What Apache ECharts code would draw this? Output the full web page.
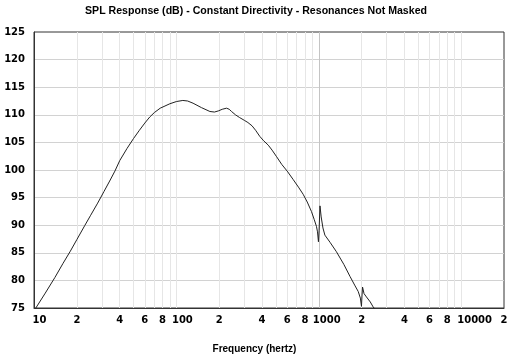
<!DOCTYPE html>
<html>
<head>
<meta charset="utf-8">
<script src="https://cdn.jsdelivr.net/npm/echarts@6/dist/echarts.min.js"></script>
<style>html,body{margin:0;padding:0;background:#fff;}#c{width:512px;height:358px;}</style>
</head>
<body>
<div id="c"></div>
<script>
// Frequency (Hz) and SPL (dB)
const freqHz = [10, 10.3, 12, 14, 16, 18, 20, 22.8, 25, 28, 31, 34, 37, 40, 45, 50, 55, 60, 65, 70, 77, 90, 100, 111, 120, 131, 150, 172, 185, 197, 210, 225, 235, 244, 260, 278, 300, 318, 340, 360, 385, 410, 442, 470, 506, 550, 600, 660, 720, 777, 830, 888, 930, 963, 980, 995, 1005, 1020, 1040, 1070, 1104, 1200, 1330, 1500, 1659, 1800, 1892, 1960, 1995, 2010, 2030, 2080, 2163, 2300, 2409, 2600];
const splDb  = [74.5, 75.0, 77.7, 80.5, 83.1, 85.3, 87.4, 90.0, 91.8, 94.0, 96.1, 98.0, 99.8, 101.7, 103.9, 105.7, 107.2, 108.5, 109.6, 110.4, 111.2, 112.0, 112.4, 112.6, 112.5, 112.1, 111.3, 110.6, 110.5, 110.7, 111.0, 111.2, 111.0, 110.6, 110.0, 109.5, 109.0, 108.6, 108.0, 107.2, 106.1, 105.3, 104.5, 103.6, 102.4, 101.0, 99.8, 98.3, 96.9, 95.6, 94.2, 92.5, 91.0, 89.8, 88.8, 87.0, 89.0, 93.5, 91.5, 89.5, 88.2, 86.9, 85.2, 82.9, 80.7, 79.0, 78.0, 76.8, 75.3, 77.0, 78.8, 77.6, 77.0, 76.1, 75.2, 74.2];

const gridTicks = [10,20,30,40,50,60,70,80,90,100,200,300,400,500,600,700,800,900,1000,2000,3000,4000,5000,6000,7000,8000,9000,10000,20000];
const majorTicks = [100, 1000, 10000];
const labeledTicks = [10,20,40,60,80,100,200,400,600,800,1000,2000,4000,6000,8000,10000,20000];
const tickLabels = ['10','2','4','6','8','100','2','4','6','8','1000','2','4','6','8','10000','2'];
const yTicks = [75, 125, 5]; // min, max, step

const lg = v => Math.log10(v);
const xMin = lg(10), xMax = lg(20000);
const labelFont = 'DejaVu Sans';

const chart = echarts.init(document.getElementById('c'), null, {renderer: 'canvas'});
chart.setOption({
  animation: false,
  backgroundColor: '#ffffff',
  title: {
    text: 'SPL Response (dB) - Constant Directivity - Resonances Not Masked',
    left: 'center', top: 1,
    textStyle: {fontFamily: 'Liberation Sans', fontWeight: 'bold', fontSize: 10.6, color: '#000'}
  },
  grid: {left: 34, right: 8, top: 32, bottom: 50, show: true, borderColor: '#333', borderWidth: 1, backgroundColor: 'transparent', outerBoundsMode: 'none', containLabel: false},
  xAxis: [{
    type: 'value', min: xMin, max: xMax,
    name: 'Frequency (hertz)', nameLocation: 'middle', nameGap: 36,
    nameTextStyle: {fontFamily: 'Liberation Sans', fontWeight: 'bold', fontSize: 10, color: '#000', padding: [0, 29, 0, 0]},
    axisLine: {show: true, lineStyle: {color: '#333', width: 1}},
    axisTick: {show: false, customValues: gridTicks.map(lg)},
    splitLine: {show: true, showMinLine: false, showMaxLine: false, lineStyle: {color: '#e6e6e6', width: 1}},
    axisLabel: {
      customValues: labeledTicks.map(lg), margin: 7, showMinLabel: true, showMaxLabel: true,
      formatter: function (v) {
        for (let i = 0; i < labeledTicks.length; i++) {
          if (Math.abs(lg(labeledTicks[i]) - v) < 1e-6) {
            const t = tickLabels[i];
            return t.length > 1 ? '{w' + t.length + '|' + t + '}' : '{n|' + t + '}';
          }
        }
        return '';
      },
      rich: {
        n:  {fontFamily: labelFont, fontWeight: 'bold', fontSize: 10, color: '#000'},
        w2: {fontFamily: labelFont, fontWeight: 'bold', fontSize: 10, color: '#000', padding: [0, 0, 0, 11]},
        w3: {fontFamily: labelFont, fontWeight: 'bold', fontSize: 10, color: '#000', padding: [0, 0, 0, 12]},
        w4: {fontFamily: labelFont, fontWeight: 'bold', fontSize: 10, color: '#000', padding: [0, 0, 0, 16]},
        w5: {fontFamily: labelFont, fontWeight: 'bold', fontSize: 10, color: '#000', padding: [0, 0, 0, 27]}
      }
    }
  }, {
    type: 'value', min: xMin, max: xMax, gridIndex: 0, position: 'bottom',
    axisLine: {show: false}, axisLabel: {show: false},
    axisTick: {show: false, customValues: majorTicks.map(lg)},
    splitLine: {show: true, showMinLine: false, showMaxLine: false, lineStyle: {color: '#c4c4c4', width: 1}}
  }],
  yAxis: {
    type: 'value', min: yTicks[0], max: yTicks[1], interval: yTicks[2],
    axisLine: {show: true, lineStyle: {color: '#333', width: 1}},
    axisTick: {show: false},
    splitLine: {show: true, showMinLine: false, showMaxLine: false, lineStyle: {color: '#d2d2d2', width: 1}},
    axisLabel: {fontFamily: labelFont, fontWeight: 'bold', fontSize: 10, color: '#000', margin: 9}
  },
  series: [{
    type: 'line', xAxisIndex: 0,
    data: freqHz.map((f, i) => [lg(f), splDb[i]]),
    symbol: 'none', smooth: false, clip: true,
    lineStyle: {color: '#222', width: 1}
  }]
});
</script>
</body>
</html>
